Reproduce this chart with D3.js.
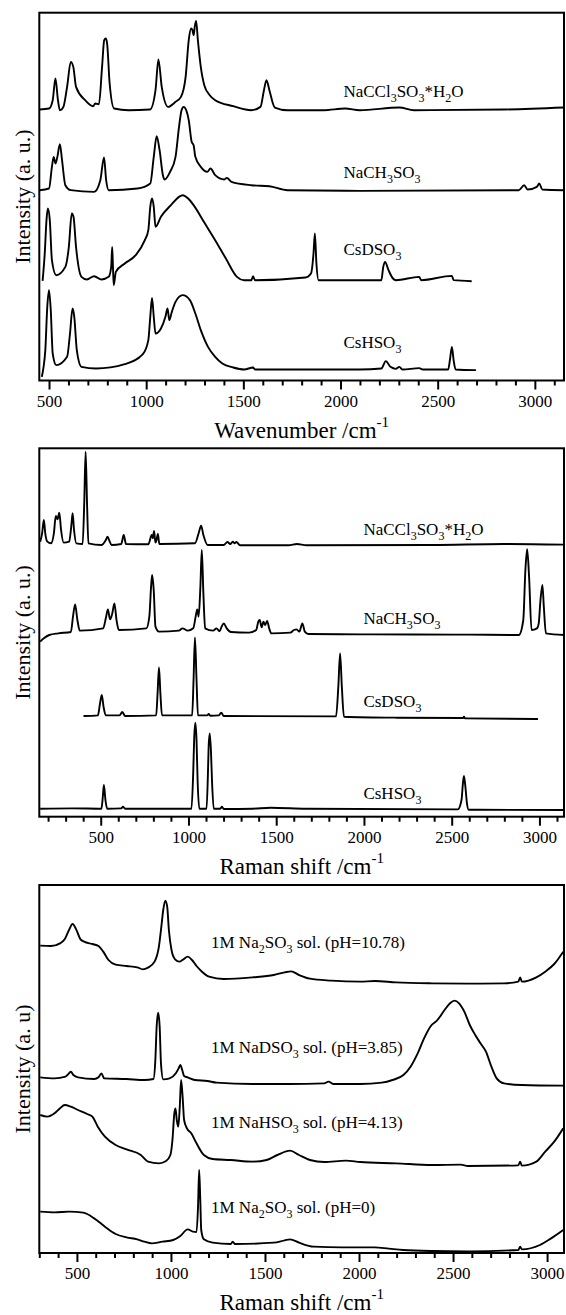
<!DOCTYPE html>
<html><head><meta charset="utf-8">
<script src="https://cdn.jsdelivr.net/npm/d3@7"></script>
<style>
body{margin:0;background:#fff}
svg{display:block}
</style>
</head><body>
<svg id="c" width="566" height="1315"></svg>
<script>
// ---------- Panel 1 (IR, Wavenumber) ----------
const p1Ticks = [500, 1000, 1500, 2000, 2500, 3000];
const p1NaCCl3 = [[452,81.3],[500,81.6],[519,84.1],[533,90.6],[546,84.1],[556,81.1],[574,82.1],[593,88.1],[612,95.6],[625,94.1],[639,88.1],[686,84.1],[727,82.3],[738,83.1],[757,82.9],[773,94.1],[784,102.1],[792,102.6],[799,101.1],[812,89.1],[835,81.6],[909,81.1],[1020,81.3],[1048,87.1],[1063,96.3],[1080,88.1],[1113,82.1],[1151,83.6],[1179,85.1],[1203,91.1],[1219,102.1],[1231,105.6],[1238,105.1],[1244,103.6],[1251,106.6],[1257,107.9],[1266,102.1],[1281,94.1],[1299,88.6],[1327,85.6],[1355,84.1],[1448,82.3],[1541,81.1],[1588,82.1],[1606,87.1],[1619,90.1],[1634,87.1],[1662,81.9],[1727,81.1],[1913,81.1],[2024,81.6],[2099,81.1],[2303,81.9],[2378,81.1],[2842,81.3],[3149,81.9]];
const p1NaCH3 = [[452,57.1],[500,57.6],[515,64.1],[524,67.1],[533,65.1],[543,67.1],[556,70.9],[567,66.1],[584,58.6],[612,57.1],[732,56.6],[764,60.1],[783,66.9],[794,60.1],[807,57.1],[955,57.6],[1021,59.1],[1039,67.1],[1054,73.3],[1069,69.1],[1086,61.6],[1095,60.3],[1123,62.6],[1151,67.1],[1169,76.1],[1182,81.1],[1193,82.1],[1206,81.1],[1219,78.1],[1234,71.6],[1244,70.6],[1253,67.1],[1281,64.1],[1314,62.6],[1331,63.6],[1355,61.6],[1402,60.3],[1415,60.8],[1439,59.6],[1541,58.6],[1634,58.3],[1727,57.1],[2099,56.9],[2917,57.1],[2945,58.6],[2963,57.3],[3010,58.1],[3023,59.1],[3038,57.3],[3149,57.1]];
const p1CsD = [[467,29.9],[478,38.1],[487,48.1],[494,51.6],[504,48.1],[515,36.1],[537,31.6],[584,34.1],[602,40.1],[617,50.1],[626,49.1],[639,40.1],[667,31.1],[695,30.3],[732,31.3],[770,30.3],[807,31.1],[820,34.1],[825,40.1],[829,34.1],[833,28.6],[844,32.6],[890,35.1],[946,37.6],[993,42.1],[1011,45.1],[1021,52.1],[1030,54.6],[1039,52.1],[1048,46.1],[1076,49.1],[1132,52.9],[1169,55.1],[1188,55.6],[1216,54.6],[1244,52.6],[1300,47.3],[1355,42.1],[1410,36.6],[1467,31.1],[1504,30.1],[1541,30.1],[1550,31.3],[1560,30.1],[1820,30.9],[1848,32.1],[1861,38.1],[1868,44.1],[1876,35.1],[1887,30.1],[2210,30.1],[2220,34.1],[2229,35.6],[2247,33.1],[2270,30.6],[2285,30.1],[2405,31.1],[2415,30.1],[2573,31.4],[2582,30.1],[2675,29.8]];
const p1CsH = [[463,1.1],[472,4.1],[481,9.1],[491,22.1],[500,27.1],[509,21.1],[519,8.1],[537,4.6],[593,7.1],[608,14.1],[621,21.6],[630,19.1],[643,9.1],[667,4.1],[742,3.6],[890,4.9],[983,7.9],[1011,12.1],[1021,19.1],[1030,24.8],[1039,19.1],[1048,14.1],[1076,15.6],[1099,19.1],[1110,21.6],[1119,18.1],[1132,20.6],[1151,23.6],[1188,25.6],[1225,24.1],[1253,20.1],[1281,15.1],[1318,10.1],[1355,7.1],[1392,5.1],[1448,3.9],[1504,3.3],[1550,3.9],[1560,3.3],[2099,3.3],[2210,3.6],[2233,5.8],[2257,4.1],[2285,3.5],[2303,4.1],[2318,3.3],[2405,3.7],[2424,3.3],[2554,3.3],[2564,6.6],[2573,10.1],[2582,6.1],[2592,3.3],[2697,3.1]];
const p1Names = ["NaCCl_3SO_3*H_2O", "NaCH_3SO_3", "CsDSO_3", "CsHSO_3"];
const p1LabelPos = [[2015,85.0],[2015,60.7],[2015,37.6],[2015,9.7]];

// ---------- Panel 2 (Raman) ----------
const p2Ticks = [500, 1000, 1500, 2000, 2500, 3000];
const p2NaCCl3 = [[155,82.5],[166,85.0],[176,89.0],[184,85.0],[196,82.5],[217,82.0],[233,85.0],[244,90.2],[254,89.2],[264,91.2],[274,86.0],[289,82.2],[320,82.5],[332,87.0],[340,91.0],[348,86.0],[361,82.0],[397,81.8],[406,94.0],[414,109.5],[422,94.0],[430,82.0],[504,81.5],[529,83.0],[539,84.0],[549,82.8],[562,81.5],[617,81.8],[631,84.5],[644,81.8],[771,81.7],[791,84.5],[797,83.5],[804,85.7],[812,82.2],[818,83.0],[826,84.8],[834,81.8],[1037,82.0],[1058,85.0],[1072,87.3],[1085,84.5],[1109,81.5],[1201,81.5],[1222,82.4],[1238,81.8],[1253,82.5],[1263,82.0],[1273,82.4],[1294,81.4],[1571,81.4],[1618,81.8],[1673,81.4],[2391,81.5],[2801,81.8],[3140,81.6]];
const p2NaCH3 = [[155,52.5],[176,53.5],[207,54.5],[258,55.0],[330,55.4],[342,60.0],[354,63.7],[367,59.0],[381,55.8],[514,56.5],[529,59.5],[541,62.2],[553,59.2],[566,61.0],[578,64.0],[590,59.0],[603,56.0],[760,56.5],[777,60.0],[787,69.0],[793,72.5],[802,68.0],[812,57.0],[832,55.5],[945,55.8],[966,56.5],[996,55.8],[1027,56.5],[1041,60.0],[1050,62.2],[1058,60.0],[1068,69.0],[1076,80.0],[1085,67.0],[1095,56.5],[1140,55.8],[1160,56.5],[1177,55.6],[1189,57.0],[1201,58.0],[1218,56.5],[1242,55.4],[1345,55.2],[1386,56.0],[1398,58.5],[1406,59.0],[1417,56.8],[1427,58.5],[1437,57.5],[1448,58.7],[1460,56.5],[1472,55.0],[1581,55.2],[1601,56.0],[1616,56.2],[1632,55.5],[1649,58.0],[1663,55.5],[1683,54.8],[1981,54.7],[2596,54.6],[2883,54.5],[2908,59.0],[2920,74.0],[2930,80.2],[2941,72.0],[2955,56.0],[2986,56.5],[2996,58.0],[3006,65.0],[3017,69.5],[3025,63.0],[3037,55.0],[3140,54.5]];
const p2CsD = [[402,30.2],[484,30.4],[496,34.0],[506,36.5],[516,33.0],[529,30.4],[607,30.4],[623,31.4],[639,30.2],[816,30.4],[824,37.0],[832,44.8],[840,37.0],[849,30.4],[1021,30.4],[1029,41.0],[1037,53.8],[1046,41.0],[1054,30.4],[1107,30.4],[1115,30.8],[1124,30.3],[1173,30.4],[1187,31.2],[1201,30.2],[1841,30.1],[1854,39.0],[1864,49.0],[1874,39.0],[1886,30.0],[2186,29.7],[2565,29.6],[2570,30.0],[2576,29.5],[2992,29.3]];
const p2CsH = [[155,2.4],[340,2.5],[504,2.4],[512,6.0],[518,9.5],[527,5.0],[537,2.4],[617,2.5],[627,3.0],[639,2.4],[1017,2.4],[1027,13.0],[1033,24.0],[1039,28.2],[1046,23.0],[1052,11.0],[1062,2.4],[1103,2.4],[1111,13.0],[1115,21.0],[1121,25.0],[1128,20.0],[1134,11.0],[1144,2.4],[1181,2.4],[1191,3.0],[1201,2.3],[1366,2.4],[1468,2.7],[1673,2.4],[2535,2.2],[2556,5.0],[2564,10.0],[2570,12.2],[2578,9.0],[2587,4.0],[2597,2.1],[3140,2.0]];
const p2Names = ["NaCCl_3SO_3*H_2O", "NaCH_3SO_3", "CsDSO_3", "CsHSO_3"];
const p2LabelPos = [[1997,84.5],[1997,57.8],[1997,32.9],[1997,5.3]];

// ---------- Panel 3 (Raman, solutions) ----------
const p3Ticks = [500, 1000, 1500, 2000, 2500, 3000];
const p3Na2pH1078 = [[305,92.2],[362,92.1],[410,92.9],[435,94.1],[458,96.9],[477,98.7],[496,97.1],[519,94.1],[538,93.4],[582,92.7],[615,92.1],[640,90.4],[668,87.9],[706,86.5],[764,86.1],[821,85.7],[850,85.1],[878,85.6],[913,87.4],[936,91.9],[949,97.9],[959,102.9],[970,105.7],[980,103.9],[989,96.9],[1003,90.9],[1022,88.1],[1045,87.4],[1066,88.1],[1089,88.9],[1112,87.9],[1136,86.1],[1165,84.4],[1203,82.9],[1280,82.2],[1433,82.7],[1547,83.4],[1605,84.2],[1639,84.5],[1681,83.4],[1739,82.3],[1853,81.7],[2006,81.4],[2083,81.6],[2197,81.2],[2388,80.9],[2580,80.8],[2771,80.9],[2847,81.4],[2857,82.7],[2866,81.4],[2943,82.7],[2990,84.4],[3038,86.7],[3086,90.4]];
const p3NaDpH385 = [[305,52.7],[381,52.4],[439,52.9],[458,53.9],[468,54.4],[481,53.4],[506,52.7],[592,52.2],[615,52.7],[630,53.9],[645,52.4],[764,52.2],[859,51.9],[907,52.2],[917,57.9],[924,67.9],[932,72.1],[940,67.9],[947,56.9],[959,52.1],[993,52.4],[1026,53.9],[1041,55.4],[1050,56.4],[1060,54.9],[1070,53.1],[1089,52.7],[1127,51.9],[1194,51.6],[1242,51.1],[1433,50.7],[1624,50.7],[1815,50.9],[1838,51.4],[1863,50.7],[2006,50.7],[2121,51.1],[2178,51.9],[2236,53.4],[2274,55.9],[2312,59.9],[2346,64.4],[2379,67.9],[2417,69.9],[2455,72.9],[2484,74.9],[2507,75.7],[2532,74.9],[2560,72.4],[2589,68.4],[2618,65.4],[2646,62.9],[2675,60.4],[2704,55.9],[2732,52.4],[2771,50.9],[2866,50.4],[3086,50.2]];
const p3NaHpH413 = [[305,41.4],[343,40.9],[381,41.9],[410,43.4],[435,44.4],[468,43.9],[506,42.9],[554,41.7],[582,40.9],[611,37.9],[649,34.9],[706,32.4],[764,31.1],[840,29.4],[878,27.4],[936,26.9],[974,27.6],[997,29.4],[1008,33.9],[1018,41.9],[1024,43.4],[1031,39.9],[1039,37.9],[1047,43.9],[1054,51.9],[1062,46.9],[1070,39.9],[1085,37.4],[1108,35.9],[1136,32.9],[1175,29.4],[1222,28.2],[1318,27.9],[1433,27.4],[1509,27.9],[1566,29.4],[1633,30.7],[1681,29.4],[1739,27.9],[1815,27.3],[1930,27.7],[2006,27.3],[2197,26.9],[2388,26.4],[2541,26.5],[2580,26.1],[2847,26.3],[2857,27.4],[2866,26.2],[2943,27.4],[2990,30.4],[3038,33.4],[3086,37.4]];
const p3Na2pH0 = [[305,12.4],[381,12.2],[458,12.4],[534,12.1],[592,10.4],[649,7.9],[706,5.7],[764,4.7],[821,4.1],[859,3.4],[898,2.9],[955,3.4],[1012,3.9],[1050,5.1],[1089,7.1],[1117,6.4],[1136,6.3],[1144,13.9],[1150,24.9],[1156,15.9],[1161,6.9],[1175,4.1],[1222,3.1],[1318,2.7],[1328,3.4],[1341,2.7],[1547,3.1],[1605,3.8],[1633,4.1],[1681,3.1],[1758,1.9],[1911,1.7],[2083,1.7],[2159,1.3],[2235,0.9],[2388,0.6],[2580,0.5],[2847,0.9],[2857,1.9],[2866,1.1],[2962,2.4],[3019,4.3],[3086,6.9]];
const p3Names = ["1M Na_2SO_3 sol. (pH=10.78)", "1M NaDSO_3 sol. (pH=3.85)", "1M NaHSO_3 sol. (pH=4.13)", "1M Na_2SO_3 sol. (pH=0)"];
const p3LabelPos = [[1213,91.5],[1213,60.0],[1213,37.5],[1213,12.0]];

// ---------- layout ----------
const FONT = "'Liberation Serif','Times New Roman',Times,serif";
const svg = d3.select("#c");
const left = 39.3, right = 564;
const panels = [
  {top:12.7, bottom:380.5, xDom:[450,3150], yMax:110.35, ticks:p1Ticks, minorStart:500, xTitle:"Wavenumber /cm", yTitle:"Intensity (a. u.)",
   series:[p1NaCCl3,p1NaCH3,p1CsD,p1CsH], names:p1Names, lpos:p1LabelPos},
  {top:448.3, bottom:816.7, xDom:[150,3140], yMax:110.5, ticks:p2Ticks, minorStart:200, xTitle:"Raman shift /cm", yTitle:"Intensity (a. u.)",
   series:[p2NaCCl3,p2NaCH3,p2CsD,p2CsH], names:p2Names, lpos:p2LabelPos},
  {top:885, bottom:1253, xDom:[300,3090], yMax:110.4, ticks:p3Ticks, minorStart:300, xTitle:"Raman shift /cm", yTitle:"Intensity (a. u)",
   series:[p3Na2pH1078,p3NaDpH385,p3NaHpH413,p3Na2pH0], names:p3Names, lpos:p3LabelPos}
];

function addRich(sel, str, subSize){
  const parts = [];
  let buf = "";
  for (let i=0;i<str.length;i++){
    if (str[i]==="_"){ if(buf){parts.push([buf,false]);buf="";} parts.push([str[i+1],true]); i++; }
    else buf += str[i];
  }
  if (buf) parts.push([buf,false]);
  let shifted = false;
  parts.forEach(([t,sub])=>{
    const ts = sel.append("tspan").text(t);
    if (sub){ ts.style("font-size",subSize+"px").attr("dy", shifted?0:5); shifted = true; }
    else { if (shifted) ts.attr("dy",-5); shifted = false; }
  });
}

panels.forEach((p,pi)=>{
  const x = d3.scaleLinear().domain(p.xDom).range([left,right]);
  const y = d3.scaleLinear().domain([0,p.yMax]).range([p.bottom,p.top]);
  const g = svg.append("g");
  const cid = "clip"+pi;
  svg.append("defs").append("clipPath").attr("id",cid).append("rect")
    .attr("x",left).attr("y",p.top).attr("width",right-left).attr("height",p.bottom-p.top);

  const minor = d3.range(p.minorStart, p.xDom[1]+1, 100).filter(v=>v%500!==0);
  const gMin = g.append("g").attr("transform",`translate(0,${p.bottom})`)
    .call(d3.axisBottom(x).tickValues(minor).tickSize(5).tickFormat("").tickSizeOuter(0));
  gMin.select(".domain").remove();
  gMin.selectAll("line").attr("stroke-width",2);
  const gMaj = g.append("g").attr("transform",`translate(0,${p.bottom})`)
    .call(d3.axisBottom(x).tickValues(p.ticks).tickFormat(d3.format("d")).tickSize(9).tickPadding(5).tickSizeOuter(0));
  gMaj.attr("font-family",null).attr("font-size",null);
  gMaj.select(".domain").remove();
  gMaj.selectAll("line").attr("stroke-width",2);
  gMaj.selectAll("text").style("font-family",FONT).style("font-size","17px").attr("fill","#000");

  const line = d3.line().x(d=>x(d[0])).y(d=>y(d[1])).curve(d3.curveMonotoneX);
  g.append("g").attr("clip-path",`url(#${cid})`).selectAll("path").data(p.series).join("path")
    .attr("d",line).attr("fill","none").attr("stroke","#000").attr("stroke-width",1.9)
    .attr("stroke-linejoin","round");

  g.append("rect").attr("x",left).attr("y",p.top).attr("width",right-left).attr("height",p.bottom-p.top)
    .attr("fill","none").attr("stroke","#000").attr("stroke-width",2);

  p.names.forEach((n,i)=>{
    const t = g.append("text").attr("x",x(p.lpos[i][0])).attr("y",y(p.lpos[i][1]))
      .style("font-family",FONT).style("font-size","17px");
    addRich(t,n,12);
  });

  const xt = g.append("text").attr("x",(left+right)/2).attr("y",p.bottom+57)
    .attr("text-anchor","middle").style("font-family",FONT).style("font-size","23px");
  xt.append("tspan").text(p.xTitle);
  xt.append("tspan").text("-1").style("font-size","15px").attr("dy",-11);

  g.append("text").attr("transform",`translate(30,${(p.top+p.bottom)/2}) rotate(-90)`)
    .attr("text-anchor","middle").style("font-family",FONT).style("font-size","22px").text(p.yTitle);
});
</script>
</body></html>
